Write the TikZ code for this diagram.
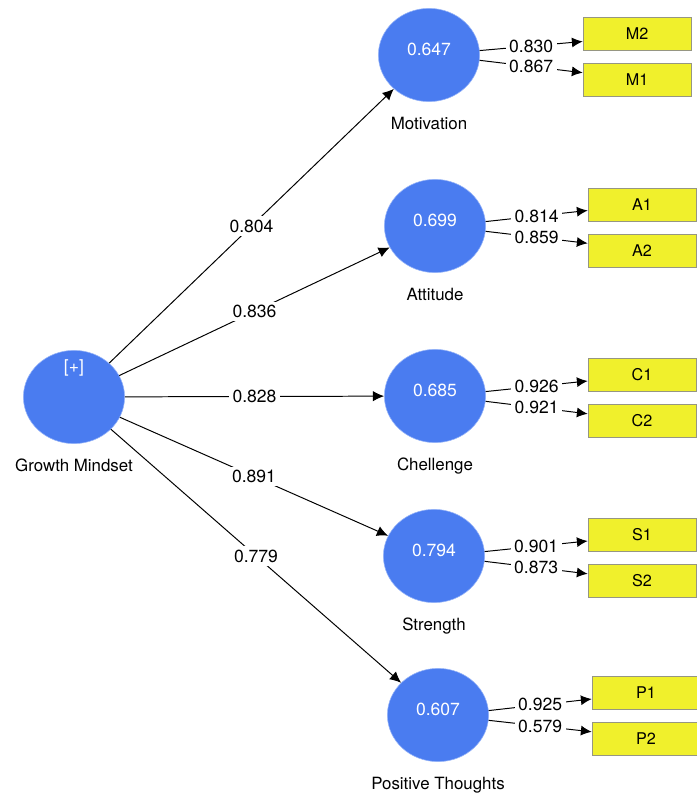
\documentclass[tikz,border=0pt]{standalone}
\usepackage{fontspec}
\setmainfont{TeX Gyre Heros}
\usepackage{tikz}
\usetikzlibrary{shapes,arrows.meta,positioning}

\definecolor{lvblue}{RGB}{74,124,240}
\definecolor{lvedge}{RGB}{150,180,248}
\definecolor{mvyellow}{RGB}{240,240,44}
\definecolor{mvedge}{RGB}{150,150,130}

\tikzset{
	lv/.style={ellipse, fill=lvblue, draw=lvedge, thin, minimum width=2.53cm, minimum height=2.33cm, inner sep=0pt},
	val/.style={text=white, font=\fontsize{12.5}{14}\selectfont, yshift=0.13cm},
	lvname/.style={font=\fontsize{12}{14}\selectfont, text height=1.5ex, text depth=0.25ex},
	mv/.style={rectangle, fill=mvyellow, draw=mvedge, minimum width=2.7cm, minimum height=0.82cm, font=\fontsize{11.5}{13}\selectfont},
	path/.style={line width=0.7pt, -{Latex[length=2.8mm,width=2.6mm]}},
	ind/.style={line width=0.7pt, -{Latex[length=2.7mm,width=2.5mm]}},
	elbl/.style={fill=white, inner sep=2.5pt, font=\fontsize{12.5}{14}\selectfont}
}

\begin{document}
\begin{tikzpicture}[x=0.025cm,y=-0.025cm]
	\useasboundingbox (0,0) rectangle (696,793);
	
	% latent variables
	\node[lv, label={[val, yshift=0.6cm]center:{[+]}}] (gm) at (74,397) {};
	\node[lv, label={[val]center:0.647}] (mot) at (429,55) {};
	\node[lv, label={[val]center:0.699}] (att) at (435,226) {};
	\node[lv, label={[val]center:0.685}] (che) at (435,396) {};
	\node[lv, label={[val]center:0.794}] (str) at (434,556) {};
	\node[lv, label={[val]center:0.607}] (pos) at (438,715) {};
	
	\node[lvname, below=0.3cm of gm] {Growth Mindset};
	\node[lvname, below=0.3cm of mot] {Motivation};
	\node[lvname, below=0.3cm of att] {Attitude};
	\node[lvname, below=0.3cm of che] {Chellenge};
	\node[lvname, below=0.3cm of str] {Strength};
	\node[lvname, below=0.3cm of pos] {Positive Thoughts};
	
	% indicators
	\node[mv] (m2) at (637,33.5) {M2};
	\node[mv] (m1) at (637,79.5) {M1};
	\node[mv] (a1) at (642,204.5) {A1};
	\node[mv] (a2) at (642,250.5) {A2};
	\node[mv] (c1) at (642,375) {C1};
	\node[mv] (c2) at (642,421) {C2};
	\node[mv] (s1) at (642,535) {S1};
	\node[mv] (s2) at (642,581) {S2};
	\node[mv] (p1) at (646,693) {P1};
	\node[mv] (p2) at (646,739) {P2};
	
	% structural paths
	\draw[path] (gm) -- node[elbl] {0.804} (mot);
	\draw[path] (gm) -- node[elbl] {0.836} (att);
	\draw[path] (gm) -- node[elbl] {0.828} (che);
	\draw[path] (gm) -- node[elbl] {0.891} (str);
	\draw[path] (gm) -- node[elbl] {0.779} (pos);
	
	% outer loadings
	\draw[ind] (mot.5) -- node[elbl] {0.830} ([yshift=-0.2cm]m2.west);
	\draw[ind] (mot.-6) -- node[elbl] {0.867} ([yshift=0.17cm]m1.west);
	\draw[ind] (att.5) -- node[elbl] {0.814} ([yshift=-0.15cm]a1.west);
	\draw[ind] (att.-6) -- node[elbl] {0.859} ([yshift=0.18cm]a2.west);
	\draw[ind] (che.5) -- node[elbl] {0.926} ([yshift=-0.15cm]c1.west);
	\draw[ind] (che.-6) -- node[elbl] {0.921} ([yshift=0.18cm]c2.west);
	\draw[ind] (str.5) -- node[elbl] {0.901} ([yshift=-0.15cm]s1.west);
	\draw[ind] (str.-6) -- node[elbl] {0.873} ([yshift=0.18cm]s2.west);
	\draw[ind] (pos.5) -- node[elbl] {0.925} ([yshift=-0.15cm]p1.west);
	\draw[ind] (pos.-6) -- node[elbl] {0.579} ([yshift=0.18cm]p2.west);
	
\end{tikzpicture}
\end{document}
